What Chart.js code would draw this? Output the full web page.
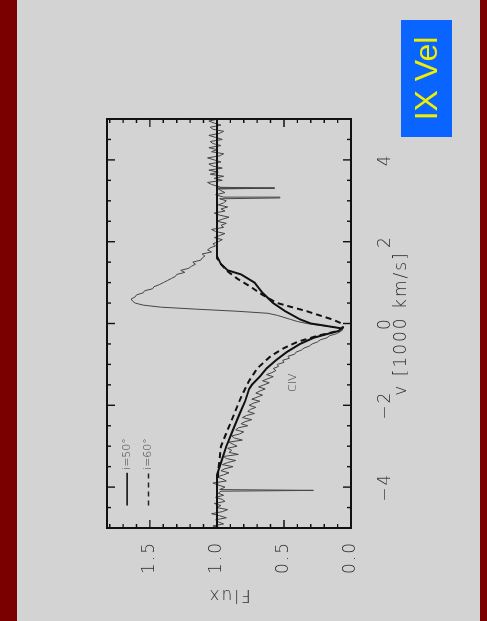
<!DOCTYPE html>
<html>
<head>
<meta charset="utf-8">
<script src="https://cdn.jsdelivr.net/npm/chart.js@4.4.1/dist/chart.umd.min.js"></script>
<style>
  html, body { margin: 0; padding: 0; }
  body { width: 487px; height: 621px; background: #7a0000; position: relative; overflow: hidden; }
  #panel { position: absolute; left: 17px; top: 0; width: 463px; height: 621px; background: #d3d3d3; }
  /* the plot is laid out landscape and turned a quarter turn counter-clockwise */
  #sheet { position: absolute; left: 17px; top: 621px; width: 621px; height: 463px;
           transform-origin: 0 0; transform: rotate(-90deg); }
  #tag { position: absolute; left: 484px; top: 384px; width: 117px; height: 51px;
         background: #0a64ff; color: #f2ee00; font: 32px "Liberation Sans", sans-serif;
         line-height: 51px; text-align: center; }
</style>
</head>
<body>
<div id="panel"></div>
<div id="sheet">
  <canvas id="civ" width="621" height="463"></canvas>
  <div id="tag">IX Vel</div>
</div>
<script>
// observed C IV profile
const velocity = [
  -5.00, -4.95, -4.90, -4.85, -4.80, -4.75, -4.70, -4.65, -4.60, -4.55,
  -4.50, -4.45, -4.40, -4.35, -4.30, -4.25, -4.20, -4.15, -4.10, -4.08,
  -4.06, -4.00, -3.95, -3.90, -3.85, -3.80, -3.75, -3.70, -3.65, -3.60,
  -3.55, -3.50, -3.45, -3.40, -3.35, -3.30, -3.25, -3.20, -3.15, -3.10,
  -3.05, -3.00, -2.95, -2.90, -2.85, -2.80, -2.75, -2.70, -2.65, -2.60,
  -2.55, -2.50, -2.45, -2.40, -2.35, -2.30, -2.25, -2.20, -2.15, -2.10,
  -2.05, -2.00, -1.95, -1.90, -1.85, -1.80, -1.75, -1.70, -1.65, -1.60,
  -1.55, -1.50, -1.45, -1.40, -1.35, -1.30, -1.25, -1.20, -1.15, -1.10,
  -1.05, -1.00, -0.95, -0.90, -0.85, -0.80, -0.75, -0.70, -0.65, -0.60,
  -0.55, -0.50, -0.45, -0.40, -0.35, -0.30, -0.25, -0.20, -0.15, -0.10,
  -0.05, 0.00, 0.05, 0.10, 0.15, 0.20, 0.25, 0.30, 0.35, 0.40,
  0.45, 0.50, 0.55, 0.60, 0.65, 0.70, 0.75, 0.80, 0.85, 0.90,
  0.95, 1.00, 1.05, 1.10, 1.15, 1.20, 1.25, 1.30, 1.35, 1.40,
  1.45, 1.50, 1.55, 1.60, 1.65, 1.70, 1.75, 1.80, 1.85, 1.90,
  1.95, 2.00, 2.05, 2.10, 2.15, 2.20, 2.25, 2.30, 2.35, 2.40,
  2.45, 2.50, 2.55, 2.60, 2.65, 2.70, 2.75, 2.80, 2.85, 2.90,
  2.95, 3.00, 3.05, 3.07, 3.09, 3.15, 3.20, 3.25, 3.29, 3.31,
  3.33, 3.40, 3.45, 3.50, 3.55, 3.60, 3.65, 3.70, 3.75, 3.80,
  3.85, 3.90, 3.95, 4.00, 4.05, 4.10, 4.15, 4.20, 4.25, 4.30,
  4.35, 4.40, 4.45, 4.50, 4.55, 4.60, 4.65, 4.70, 4.75, 4.80,
  4.85, 4.90, 4.95, 5.00
];
const flux = [
  0.97, 1.03, 0.95, 0.99, 1.01, 0.93, 0.98, 1.04, 0.96, 0.92,
  1.00, 0.97, 1.02, 0.94, 0.96, 1.01, 0.95, 0.99, 0.97, 0.28,
  0.98, 0.94, 0.99, 1.03, 0.93, 0.96, 1.00, 0.95, 0.91, 0.97,
  0.94, 0.88, 0.96, 0.92, 0.86, 0.93, 0.95, 0.84, 0.91, 0.89,
  0.92, 0.85, 0.88, 0.91, 0.81, 0.87, 0.89, 0.83, 0.80, 0.86,
  0.84, 0.77, 0.82, 0.79, 0.74, 0.81, 0.78, 0.72, 0.77, 0.75,
  0.71, 0.76, 0.73, 0.68, 0.74, 0.70, 0.66, 0.71, 0.68, 0.64,
  0.69, 0.65, 0.61, 0.66, 0.62, 0.58, 0.63, 0.59, 0.56, 0.58,
  0.54, 0.55, 0.50, 0.51, 0.46, 0.47, 0.42, 0.41, 0.37, 0.35,
  0.31, 0.29, 0.25, 0.23, 0.18, 0.16, 0.11, 0.08, 0.06, 0.10,
  0.22, 0.33, 0.40, 0.45, 0.50, 0.55, 0.62, 0.85, 1.15, 1.42,
  1.55, 1.61, 1.63, 1.64, 1.61, 1.60, 1.55, 1.54, 1.48, 1.47,
  1.43, 1.40, 1.37, 1.34, 1.31, 1.30, 1.24, 1.27, 1.21, 1.19,
  1.16, 1.18, 1.12, 1.11, 1.09, 1.11, 1.04, 1.07, 1.05, 1.01,
  1.03, 0.99, 0.96, 1.02, 0.98, 0.94, 1.01, 1.04, 0.95, 0.97,
  0.93, 1.00, 0.96, 0.91, 0.98, 1.02, 0.94, 0.97, 0.92, 0.99,
  0.95, 0.93, 0.98, 0.53, 0.95, 1.01, 0.94, 0.97, 0.99, 0.57,
  0.97, 1.04, 1.07, 0.96, 1.02, 0.95, 1.05, 0.99, 1.06, 0.96,
  1.03, 1.06, 0.97, 1.02, 1.07, 0.98, 0.95, 1.04, 1.00, 1.06,
  0.97, 1.03, 1.05, 0.96, 1.01, 1.06, 0.98, 0.95, 1.03, 1.05,
  0.97, 1.02, 1.06, 0.99
];

// wind models, i = 50 deg (solid) and i = 60 deg (dashed)
const model50Velocity = [-5.0, -3.7, -3.4, -3.0, -2.6, -2.2, -1.9, -1.6, -1.5, -1.3, -1.1, -0.9, -0.7, -0.5,
  -0.35, -0.25, -0.18, -0.12, -0.05, 0.0, 0.1, 0.3, 0.5, 0.75, 1.0, 1.2, 1.3, 1.45, 1.65, 5.0];
const model50Flux = [1.0, 1.0, 0.97, 0.93, 0.88, 0.83, 0.79, 0.76, 0.74, 0.68, 0.63, 0.56, 0.48, 0.38,
  0.28, 0.17, 0.09, 0.07, 0.20, 0.30, 0.38, 0.49, 0.58, 0.66, 0.72, 0.82, 0.92, 0.97, 1.0, 1.0];
const model60Velocity = [-5.0, -4.0, -3.6, -3.0, -2.6, -2.2, -1.8, -1.4, -1.1, -0.8, -0.6, -0.45, -0.3,
  -0.2, -0.1, 0.0, 0.1, 0.3, 0.5, 0.7, 0.9, 1.1, 1.3, 1.45, 1.6, 5.0];
const model60Flux = [1.0, 1.0, 0.99, 0.97, 0.92, 0.87, 0.82, 0.76, 0.70, 0.60, 0.50, 0.40, 0.25,
  0.12, 0.06, 0.07, 0.14, 0.33, 0.55, 0.66, 0.75, 0.85, 0.93, 0.97, 1.0, 1.0];

const velocityTicks = [-4, -2, 0, 2, 4];
const velocityMinor = [-4.5, -4, -3.5, -3, -2.5, -2, -1.5, -1, -0.5, 0, 0.5, 1, 1.5, 2, 2.5, 3, 3.5, 4, 4.5];
const fluxTicks = [0, 0.5, 1.0, 1.5];
const fluxMinor = [0.1, 0.2, 0.3, 0.4, 0.5, 0.6, 0.7, 0.8, 0.9, 1.0, 1.1, 1.2, 1.3, 1.4, 1.5, 1.6, 1.7, 1.8];

const legendItems = [
  { text: 'i=50°', dash: [], flux: 1.67 },
  { text: 'i=60°', dash: [5, 4], flux: 1.51 }
];

const ink = '#2e2e2e';
const axisFont = { family: 'DejaVu Sans', size: 17, weight: 300 };

const pairs = (xs, ys) => xs.map((x, i) => ({ x, y: ys[i] }));

// IDL style box: frame with inward ticks on all four sides, plus the legend and line id
const boxPlot = {
  id: 'boxPlot',
  beforeDraw(chart) {
    chart.ctx.letterSpacing = '2px';
  },
  afterDatasetsDraw(chart) {
    const { ctx, chartArea: a, scales: { x, y } } = chart;
    ctx.save();
    ctx.letterSpacing = '0px';
    ctx.strokeStyle = '#111';
    ctx.lineWidth = 2;
    ctx.strokeRect(a.left, a.top, a.width, a.height);

    ctx.lineWidth = 1.4;
    ctx.beginPath();
    velocityMinor.forEach(v => {
      const px = x.getPixelForValue(v);
      const len = velocityTicks.includes(v) ? 8 : 4;
      ctx.moveTo(px, a.bottom); ctx.lineTo(px, a.bottom - len);
      ctx.moveTo(px, a.top); ctx.lineTo(px, a.top + len);
    });
    fluxMinor.forEach(f => {
      const py = y.getPixelForValue(f);
      const len = fluxTicks.includes(f) ? 8 : 4;
      ctx.moveTo(a.left, py); ctx.lineTo(a.left + len, py);
      ctx.moveTo(a.right, py); ctx.lineTo(a.right - len, py);
    });
    ctx.stroke();

    ctx.font = '300 11px "DejaVu Sans"';
    ctx.fillStyle = '#3a3a3a';
    ctx.textBaseline = 'middle';
    legendItems.forEach(item => {
      const py = y.getPixelForValue(item.flux);
      ctx.setLineDash(item.dash);
      ctx.lineWidth = 1.6;
      ctx.strokeStyle = '#222';
      ctx.beginPath();
      ctx.moveTo(x.getPixelForValue(-4.45), py);
      ctx.lineTo(x.getPixelForValue(-3.65), py);
      ctx.stroke();
      ctx.textAlign = 'left';
      ctx.fillText(item.text, x.getPixelForValue(-3.58), py);
    });
    ctx.setLineDash([]);
    ctx.textAlign = 'center';
    ctx.fillText('CIV', x.getPixelForValue(-1.45), y.getPixelForValue(0.43));
    ctx.restore();
  }
};

new Chart('civ', {
  type: 'line',
  data: {
    datasets: [
      {
        label: 'i=50°',
        data: pairs(model50Velocity, model50Flux),
        borderColor: '#111',
        borderWidth: 2,
        pointRadius: 0,
        order: 1
      },
      {
        label: 'i=60°',
        data: pairs(model60Velocity, model60Flux),
        borderColor: '#111',
        borderWidth: 2,
        borderDash: [6, 4],
        pointRadius: 0,
        order: 2
      },
      {
        label: 'CIV',
        data: pairs(velocity, flux),
        borderColor: '#454545',
        borderWidth: 1,
        pointRadius: 0,
        order: 3
      }
    ]
  },
  options: {
    responsive: false,
    animation: false,
    layout: { padding: { top: 90, right: 119, left: 0, bottom: 0 } },
    plugins: { legend: { display: false }, tooltip: { enabled: false } },
    scales: {
      x: {
        type: 'linear',
        min: -5,
        max: 5,
        grid: { display: false },
        border: { display: false },
        afterBuildTicks: s => { s.ticks = velocityTicks.map(value => ({ value })); },
        afterFit: s => { s.height = 129; },
        ticks: {
          padding: 16,
          color: ink,
          font: axisFont,
          maxRotation: 0,
          autoSkip: false,
          callback: v => (v < 0 ? '\u2212' + Math.abs(v) : String(v))
        },
        title: {
          display: true,
          text: 'v [1000 km/s]',
          color: ink,
          font: axisFont,
          padding: { top: 0, bottom: 68 }
        }
      },
      y: {
        type: 'linear',
        min: 0,
        max: 1.82,
        grid: { display: false },
        border: { display: false },
        afterBuildTicks: s => { s.ticks = fluxTicks.map(value => ({ value })); },
        afterFit: s => { s.width = 93; },
        ticks: {
          padding: 5,
          color: ink,
          font: axisFont,
          callback: v => v.toFixed(1)
        },
        title: {
          display: true,
          text: 'Flux',
          color: ink,
          font: axisFont,
          padding: { top: 16, bottom: 0 }
        }
      }
    }
  },
  plugins: [boxPlot]
});
</script>
</body>
</html>
